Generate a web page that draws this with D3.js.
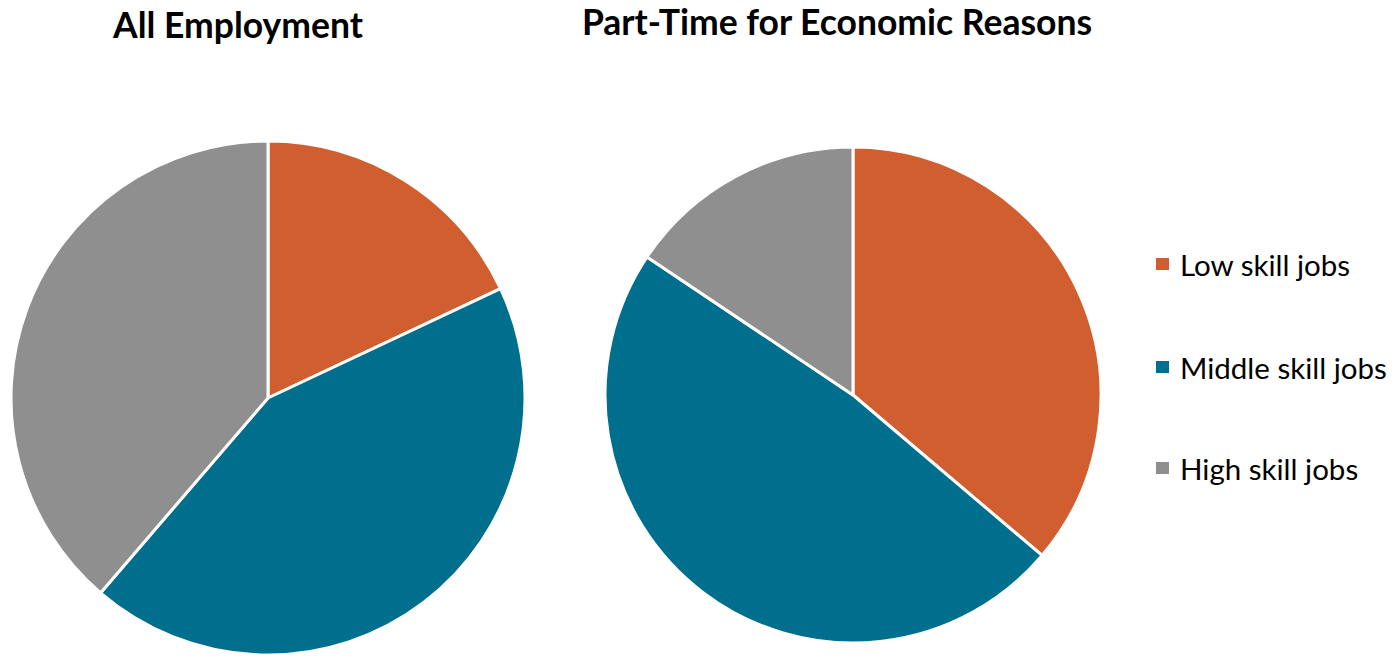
<!DOCTYPE html>
<html>
<head>
<meta charset="utf-8">
<script src="https://cdn.jsdelivr.net/npm/d3@7"></script>
<style>
  html, body { margin: 0; padding: 0; background: #fff; }
  svg { display: block; }
  text { font-family: Lato, "Liberation Sans", sans-serif; fill: #000; }
</style>
</head>
<body>
<svg id="chart" width="1397" height="656"></svg>
<script>
// Skill categories and their shares (%) in each group
const categories = ["Low skill jobs", "Middle skill jobs", "High skill jobs"];
const allEmployment = [18, 43.3, 38.7];
const partTimeEconomic = [36.2, 48.2, 15.6];
const chartTitles = ["All Employment", "Part-Time for Economic Reasons"];
const colors = ["#D05E2F", "#006F8E", "#8F8F8F"];

const svg = d3.select("#chart");
const color = d3.scaleOrdinal().domain(categories).range(colors);

const pie = d3.pie().sort(null).value(d => d.value);

function drawPie(values, title, cx, cy, r, titleX, titleY) {
  const data = categories.map((c, i) => ({ cat: c, value: values[i] }));
  const g = svg.append("g").attr("transform", `translate(${cx},${cy})`);
  const arc = d3.arc().innerRadius(0).outerRadius(r);
  g.selectAll("path")
    .data(pie(data))
    .join("path")
    .attr("d", arc)
    .attr("fill", d => color(d.data.cat))
    .attr("stroke", "#fff")
    .attr("stroke-width", 3)
    .attr("stroke-linejoin", "round");
  svg.append("text")
    .attr("x", titleX)
    .attr("y", titleY)
    .attr("text-anchor", "middle")
    .attr("font-weight", "bold")
    .attr("font-size", 35.5)
    .text(title);
}

drawPie(allEmployment, chartTitles[0], 268, 398, 257, 238, 38);
drawPie(partTimeEconomic, chartTitles[1], 853, 395, 248, 837, 35);

// Legend
const legendTop = [258, 361, 462];
const legend = svg.append("g");
categories.forEach((c, i) => {
  legend.append("rect")
    .attr("x", 1156)
    .attr("y", legendTop[i])
    .attr("width", 13)
    .attr("height", 12)
    .attr("fill", color(c));
  legend.append("text")
    .attr("x", 1180)
    .attr("y", legendTop[i] + 18)
    .attr("font-size", 29.5)
    .text(c);
});
</script>
</body>
</html>
